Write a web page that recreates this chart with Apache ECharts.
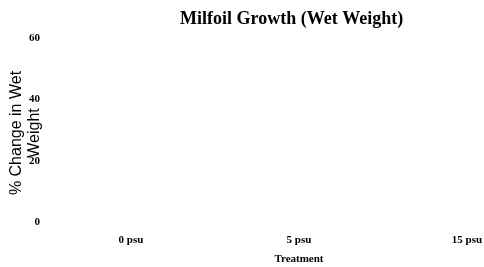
<!DOCTYPE html>
<html>
<head>
<meta charset="utf-8">
<script src="https://cdn.jsdelivr.net/npm/echarts@6/dist/echarts.min.js"></script>
<style>
  html, body { margin: 0; padding: 0; background: #fff; }
  #chart { width: 484px; height: 267px; }
</style>
</head>
<body>
<div id="chart"></div>
<script>
// categories and values (no bars are visible in the source picture)
const categories = ['0 psu', '5 psu', '15 psu'];
const wetWeightChange = [null, null, null];
const yTicks = [0, 20, 40, 60];

const chartDom = document.getElementById('chart');
const myChart = echarts.init(chartDom);

const serif = '"Liberation Serif", "DejaVu Serif", serif';
const sans = '"Liberation Sans", "DejaVu Sans", sans-serif';

let option;
option = {
    animation: false,
    title: {
        text: 'Milfoil Growth (Wet Weight)',
        left: 175,
        top: 5,
        textStyle: {
            fontFamily: serif,
            fontWeight: 'bold',
            fontSize: 18,
            color: '#000'
        }
    },
    grid: {
        left: 131,
        right: 17,
        top: 38,
        bottom: 45,
        outerBoundsMode: 'none'
    },
    xAxis: {
        type: 'category',
        data: categories,
        boundaryGap: false,
        name: 'Treatment',
        nameLocation: 'middle',
        nameGap: 32,
        nameTextStyle: {
            fontFamily: serif,
            fontWeight: 'bold',
            fontSize: 11,
            color: '#000'
        },
        axisLine: { show: false },
        axisTick: { show: false },
        axisLabel: {
            margin: 13,
            fontFamily: serif,
            fontWeight: 'bold',
            fontSize: 11,
            color: '#000'
        }
    },
    yAxis: {
        type: 'value',
        min: yTicks[0],
        max: yTicks[yTicks.length - 1],
        interval: yTicks[1] - yTicks[0],
        name: '% Change in Wet\nWeight',
        nameLocation: 'middle',
        nameRotate: 90,
        nameGap: 87,
        nameMoveOverlap: false,
        nameTextStyle: {
            fontFamily: sans,
            fontSize: 16,
            lineHeight: 18,
            padding: [0, 6, 0, 0],
            color: '#000'
        },
        axisLine: { show: false },
        axisTick: { show: false },
        splitLine: { show: false },
        axisLabel: {
            margin: 91,
            fontFamily: serif,
            fontWeight: 'bold',
            fontSize: 11,
            color: '#000'
        }
    },
    series: [
        {
            name: '% Change in Wet Weight',
            type: 'bar',
            barWidth: '40%',
            itemStyle: { color: '#4472C4' },
            data: wetWeightChange
        }
    ]
};
option && myChart.setOption(option);
</script>
</body>
</html>
